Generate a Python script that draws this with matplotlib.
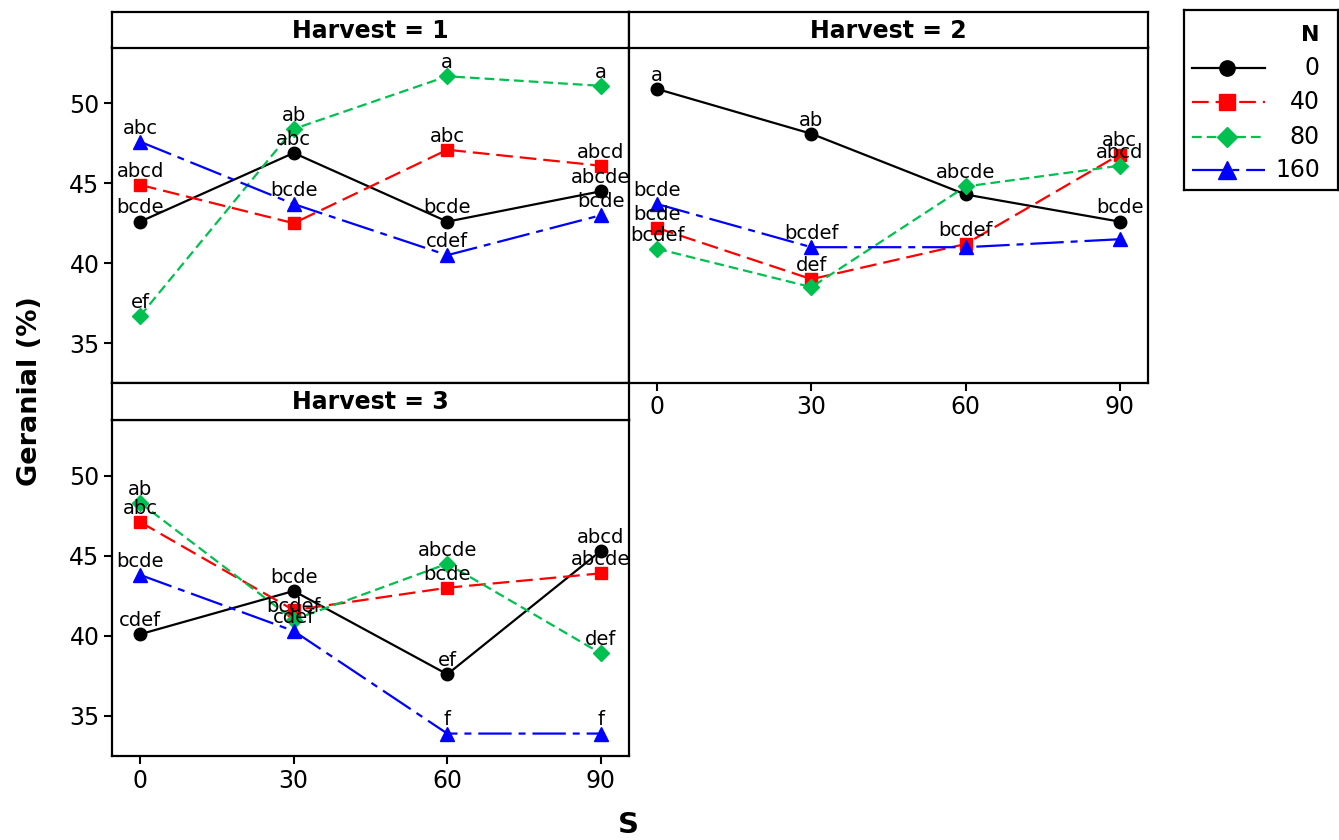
import matplotlib
matplotlib.use('Agg')
import matplotlib.pyplot as plt
from matplotlib.lines import Line2D

# ---- data ----
s_levels = [0, 30, 60, 90]
n_levels = ['0', '40', '80', '160']

h1_n0 = [42.6, 46.9, 42.6, 44.5]
h1_n40 = [44.9, 42.5, 47.1, 46.1]
h1_n80 = [36.7, 48.4, 51.7, 51.1]
h1_n160 = [47.6, 43.7, 40.5, 43.0]

h2_n0 = [50.9, 48.1, 44.3, 42.6]
h2_n40 = [42.2, 39.0, 41.2, 46.8]
h2_n80 = [40.9, 38.5, 44.8, 46.1]
h2_n160 = [43.7, 41.0, 41.0, 41.5]

h3_n0 = [40.1, 42.8, 37.6, 45.3]
h3_n40 = [47.1, 41.6, 43.0, 43.9]
h3_n80 = [48.3, 41.0, 44.5, 38.9]
h3_n160 = [43.8, 40.3, 33.9, 33.9]

# letter groups (empty string = no label visible)
h1_lab = [['bcde', 'abc', 'bcde', 'abcde'],
          ['abcd', '', 'abc', 'abcd'],
          ['ef', 'ab', 'a', 'a'],
          ['abc', 'bcde', 'cdef', 'bcde']]
h2_lab = [['a', 'ab', '', 'bcde'],
          ['bcde', 'def', 'bcdef', 'abc'],
          ['bcdef', '', 'abcde', 'abcd'],
          ['bcde', 'bcdef', '', '']]
h3_lab = [['cdef', 'bcde', 'ef', 'abcd'],
          ['abc', '', 'bcde', 'abcde'],
          ['ab', 'bcdef', 'abcde', 'def'],
          ['bcde', 'cdef', 'f', 'f']]

panels = [('Harvest = 1', [h1_n0, h1_n40, h1_n80, h1_n160], h1_lab),
          ('Harvest = 2', [h2_n0, h2_n40, h2_n80, h2_n160], h2_lab),
          ('Harvest = 3', [h3_n0, h3_n40, h3_n80, h3_n160], h3_lab)]

# ---- styles ----
plt.rcParams['font.family'] = 'DejaVu Sans'
plt.rcParams['lines.scale_dashes'] = False
colors = ['black', '#ff0000', '#00c050', '#0000ff']
markers = ['o', 's', 'D', '^']
msizes = [9, 9, 8.5, 10.5]
dashes = [None, (12, 5), (7, 3.6), (24, 5, 5, 5)]

W, H = 1339, 840
fig = plt.figure(figsize=(W / 100, H / 100), dpi=100)


def px(x0, y0, x1, y1):
    # pixel box -> figure fraction [left, bottom, width, height]
    return [x0 / W, 1 - y1 / H, (x1 - x0) / W, (y1 - y0) / H]


boxes = [(112, 12, 629, 47.5, 383), (629, 12, 1148, 47.5, 383), (112, 383, 629, 419.5, 756)]

for i, (title, series, labs) in enumerate(panels):
    x0, ys, x1, yp, yb = boxes[i]
    ax = fig.add_axes(px(x0, yp, x1, yb))
    st = fig.add_axes(px(x0, ys, x1, yp))
    st.set_xticks([])
    st.set_yticks([])
    for sp in st.spines.values():
        sp.set_linewidth(1.6)
    st.text(0.5, 0.47, title, ha='center', va='center', fontsize=17, fontweight='bold',
            transform=st.transAxes)

    for k, vals in enumerate(series):
        ln, = ax.plot(s_levels, vals, color=colors[k], marker=markers[k], markersize=msizes[k],
                      linewidth=1.6, zorder=2 + k)
        if dashes[k] is not None:
            ln.set_dashes(dashes[k])
        for x, y, t in zip(s_levels, vals, labs[k]):
            if t:
                ax.annotate(t, (x, y), xytext=(0, 3), textcoords='offset points',
                            ha='center', va='bottom', fontsize=14, zorder=10)

    ax.set_xlim(-5.5, 95.5)
    ax.set_ylim(32.5, 53.5)
    ax.set_xticks(s_levels)
    ax.set_yticks([35, 40, 45, 50])
    for sp in ax.spines.values():
        sp.set_linewidth(1.6)
    ax.tick_params(direction='out', length=6, width=1.5, labelsize=17, pad=3)
    if i == 0:
        ax.tick_params(bottom=False, labelbottom=False)
    if i == 1:
        ax.tick_params(left=False, labelleft=False)

# legend drawn by hand so labels sit right-aligned like the original
lg = fig.add_axes(px(1184, 10, 1338, 190))
lg.set_xlim(1184, 1338)
lg.set_ylim(190, 10)
lg.set_xticks([])
lg.set_yticks([])
for sp in lg.spines.values():
    sp.set_linewidth(1.6)
lg.text(1320, 35, 'N', ha='right', va='center', fontsize=16, fontweight='bold')
for k, name in enumerate(n_levels):
    yy = [68, 102, 137, 170][k]
    h = Line2D([1192, 1265], [yy, yy], color=colors[k], linewidth=1.6)
    if dashes[k] is not None:
        h.set_dashes(dashes[k])
    lg.add_line(h)
    lg.plot([1227], [yy], marker=markers[k], color=colors[k], markersize=msizes[k] + 2)
    lg.text(1320, yy, name, ha='right', va='center', fontsize=17)

fig.text(30 / W, 1 - 391 / H, 'Geranial (%)', rotation=90, ha='center', va='center',
         fontsize=19.5, fontweight='bold')
fig.text(628 / W, 1 - 825 / H, 'S', ha='center', va='center', fontsize=21, fontweight='bold')

fig.savefig('out.png', dpi=100)
